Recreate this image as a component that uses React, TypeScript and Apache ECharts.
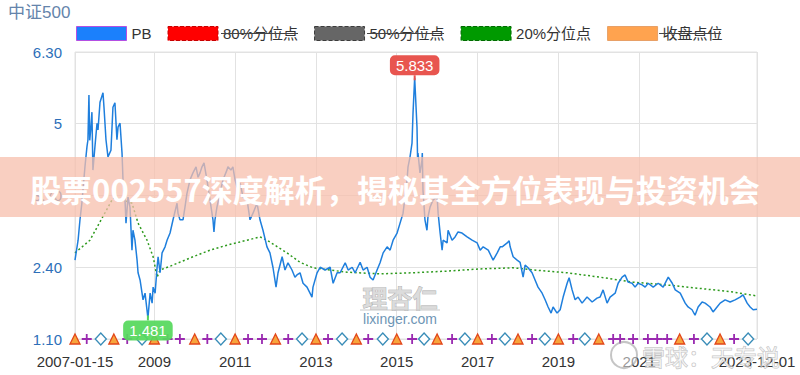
import React, { useEffect, useRef } from 'react';
import * as echarts from 'echarts';

const chartTitle = '中证500';
const legendNames = ['PB', '80%分位点', '50%分位点', '20%分位点', '收盘点位'];
const legendFills = ['#1b80fc', '#ff0000', '#666666', '#009a00', '#ffa34f'];
const legendBorders = ['#b44fe3', '#c80000', '#3c3c3c', '#006b00', '#e8a066'];
const legendBorderTypes = ['solid', 'dashed', 'dashed', 'dashed', 'solid'];
const legendStruck = [false, true, true, false, true];

const yTickValues = [1.1, 2.4, 3.7, 5, 6.3];
const yTickLabels = ['1.10', '2.40', '3.70', '5', '6.30'];
const xTickDates = ['2007-01-15', '2009-01-01', '2011-01-01', '2013-01-01', '2015-01-01', '2017-01-01', '2019-01-01', '2021-01-01', '2023-12-01'];
const xTickLabels = ['2007-01-15', '2009', '2011', '2013', '2015', '2017', '2019', '2021', '2023-12-01'];

const pbData: [string, number][] = [
  ['2007-01-15', 2.53], ['2007-02-12', 2.89], ['2007-03-01', 3.26], ['2007-03-18', 3.56], ['2007-04-15', 4.22],
  ['2007-05-03', 4.58], ['2007-05-12', 4.71], ['2007-05-21', 5.52], ['2007-05-28', 4.7], ['2007-06-08', 4.94],
  ['2007-06-17', 5.21], ['2007-06-26', 4.16], ['2007-07-14', 4.58], ['2007-08-02', 5.01], ['2007-08-11', 4.89],
  ['2007-08-29', 5.39], ['2007-09-25', 5.56], ['2007-10-04', 5.3], ['2007-10-22', 4.71], ['2007-11-09', 4.4],
  ['2007-12-06', 4.52], ['2007-12-24', 5.3], ['2008-01-11', 5.38], ['2008-01-29', 4.71], ['2008-02-08', 4.94],
  ['2008-02-26', 5.01], ['2008-03-15', 4.47], ['2008-03-24', 3.98], ['2008-04-11', 3.62], ['2008-04-20', 3.2],
  ['2008-05-08', 3.67], ['2008-05-26', 3.49], ['2008-06-13', 2.71], ['2008-06-22', 3.07], ['2008-07-10', 2.89],
  ['2008-07-29', 2.53], ['2008-08-07', 2.3], ['2008-08-25', 2.17], ['2008-09-21', 1.81], ['2008-10-09', 1.93],
  ['2008-11-04', 1.481], ['2008-11-24', 1.93], ['2008-12-12', 1.75], ['2008-12-21', 2.04], ['2009-01-08', 1.93],
  ['2009-01-26', 2.4], ['2009-02-04', 2.59], ['2009-02-22', 2.3], ['2009-03-12', 2.66], ['2009-04-08', 2.77],
  ['2009-04-26', 2.89], ['2009-05-23', 3.02], ['2009-06-19', 3.26], ['2009-07-25', 3.56], ['2009-08-03', 3.38],
  ['2009-08-21', 3.26], ['2009-09-17', 3.26], ['2009-10-05', 3.49], ['2009-10-23', 3.74], ['2009-11-19', 3.98],
  ['2009-12-16', 4.11], ['2010-01-13', 4.22], ['2010-01-31', 4.03], ['2010-02-18', 4.11], ['2010-03-08', 4.22],
  ['2010-03-26', 4.29], ['2010-04-22', 3.98], ['2010-05-19', 3.62], ['2010-06-15', 3.26], ['2010-06-24', 3.04],
  ['2010-07-03', 3.26], ['2010-07-21', 3.49], ['2010-08-17', 3.74], ['2010-09-13', 3.98], ['2010-10-19', 4.16],
  ['2010-10-28', 4.22], ['2010-11-24', 4.16], ['2010-12-12', 4.22], ['2011-01-01', 3.98], ['2011-01-19', 3.85],
  ['2011-02-15', 3.93], ['2011-03-14', 3.67], ['2011-04-19', 3.62], ['2011-05-16', 3.26], ['2011-06-12', 3.38],
  ['2011-07-18', 3.56], ['2011-08-14', 3.26], ['2011-09-10', 3.07], ['2011-10-16', 2.77], ['2011-11-12', 2.66],
  ['2011-12-09', 2.4], ['2012-01-06', 2.04], ['2012-01-24', 2.3], ['2012-03-01', 2.59], ['2012-03-27', 2.35],
  ['2012-04-23', 2.48], ['2012-05-29', 2.35], ['2012-06-25', 2.22], ['2012-07-13', 2.26], ['2012-08-10', 2.3],
  ['2012-09-06', 2.11], ['2012-10-12', 2.04], ['2012-11-26', 1.86], ['2012-12-05', 2.04], ['2013-01-11', 2.3],
  ['2013-02-08', 2.4], ['2013-03-25', 2.35], ['2013-05-09', 2.4], ['2013-06-05', 2.11], ['2013-07-11', 2.3],
  ['2013-08-07', 2.3], ['2013-09-22', 2.48], ['2013-10-19', 2.35], ['2013-11-24', 2.4], ['2013-12-21', 2.3],
  ['2014-02-04', 2.49], ['2014-03-03', 2.35], ['2014-04-08', 2.4], ['2014-05-05', 2.22], ['2014-06-01', 2.17],
  ['2014-07-07', 2.35], ['2014-08-03', 2.48], ['2014-08-31', 2.66], ['2014-10-06', 2.77], ['2014-11-02', 2.71],
  ['2014-11-29', 2.89], ['2015-01-04', 3.02], ['2015-01-31', 3.2], ['2015-02-27', 3.38], ['2015-04-04', 3.98],
  ['2015-04-13', 4.22], ['2015-05-01', 4.4], ['2015-05-19', 4.65], ['2015-05-28', 5.19], ['2015-06-12', 5.833],
  ['2015-07-03', 4.94], ['2015-07-08', 4.4], ['2015-07-12', 4.47], ['2015-07-30', 4.11], ['2015-08-17', 4.34],
  ['2015-08-20', 4.47], ['2015-08-26', 3.8], ['2015-09-13', 3.26], ['2015-10-01', 3.07], ['2015-10-10', 3.31],
  ['2015-10-29', 3.49], ['2015-11-25', 3.62], ['2016-01-01', 3.67], ['2016-01-10', 3.38], ['2016-01-28', 3.02],
  ['2016-02-15', 2.71], ['2016-02-24', 2.89], ['2016-03-31', 2.84], ['2016-04-09', 3.07], ['2016-05-15', 2.89],
  ['2016-06-11', 2.95], ['2016-07-08', 3.04], ['2016-08-13', 3.02], ['2016-09-28', 2.95], ['2016-11-12', 2.89],
  ['2016-12-28', 2.84], ['2017-01-24', 2.71], ['2017-02-20', 2.77], ['2017-04-07', 2.71], ['2017-05-21', 2.53],
  ['2017-06-27', 2.66], ['2017-07-24', 2.77], ['2017-08-11', 2.77], ['2017-09-25', 2.84], ['2017-10-13', 2.88],
  ['2017-10-22', 2.77], ['2017-11-18', 2.59], ['2017-12-24', 2.53], ['2018-01-20', 2.49], ['2018-02-16', 2.22],
  ['2018-03-06', 2.44], ['2018-04-02', 2.39], ['2018-05-08', 2.3], ['2018-06-04', 2.17], ['2018-07-01', 2.04],
  ['2018-08-07', 1.93], ['2018-09-03', 1.81], ['2018-09-30', 1.68], ['2018-10-27', 1.57], ['2018-11-14', 1.68],
  ['2018-12-20', 1.57], ['2019-01-17', 1.63], ['2019-02-13', 1.86], ['2019-03-21', 2.11], ['2019-04-08', 2.21],
  ['2019-05-05', 1.99], ['2019-06-01', 1.81], ['2019-06-28', 1.86], ['2019-08-03', 1.75], ['2019-09-17', 1.86],
  ['2019-11-02', 1.77], ['2019-12-16', 1.84], ['2020-01-13', 1.86], ['2020-02-09', 1.99], ['2020-03-16', 1.75],
  ['2020-04-12', 1.86], ['2020-05-28', 1.93], ['2020-06-24', 2.11], ['2020-07-30', 2.22], ['2020-08-26', 2.26],
  ['2020-09-22', 2.13], ['2020-10-28', 2.11], ['2020-11-24', 2.04], ['2020-12-21', 2.11], ['2021-01-27', 2.08],
  ['2021-02-23', 2.04], ['2021-03-22', 2.11], ['2021-05-07', 2.04], ['2021-06-21', 2.11], ['2021-08-05', 2.04],
  ['2021-09-20', 2.22], ['2021-10-26', 2.11], ['2021-11-22', 1.99], ['2022-01-06', 1.93], ['2022-02-20', 1.75],
  ['2022-03-18', 1.68], ['2022-04-23', 1.63], ['2022-05-20', 1.53], ['2022-06-17', 1.68], ['2022-07-23', 1.77],
  ['2022-08-19', 1.75], ['2022-10-03', 1.68], ['2022-10-30', 1.59], ['2022-12-05', 1.68], ['2023-01-02', 1.75],
  ['2023-02-16', 1.81], ['2023-04-02', 1.77], ['2023-05-17', 1.81], ['2023-07-01', 1.86], ['2023-07-28', 1.9],
  ['2023-09-03', 1.75], ['2023-09-30', 1.68], ['2023-10-27', 1.63], ['2023-12-01', 1.64],
];

const q20Data: [string, number][] = [
  ['2007-01-15', 2.66], ['2007-05-30', 2.89], ['2007-12-24', 3.65], ['2008-03-24', 3.62], ['2008-06-13', 3.56],
  ['2008-08-07', 3.2], ['2008-10-27', 2.89], ['2008-12-21', 2.59], ['2009-01-26', 2.22], ['2009-02-22', 2.35],
  ['2009-06-19', 2.44], ['2009-12-16', 2.59], ['2010-05-19', 2.71], ['2010-10-19', 2.8], ['2011-04-19', 2.89],
  ['2011-08-14', 2.95], ['2011-10-16', 2.89], ['2012-04-14', 2.66], ['2012-08-10', 2.49], ['2012-12-05', 2.39],
  ['2013-10-10', 2.31], ['2014-08-03', 2.28], ['2015-05-28', 2.3], ['2016-03-31', 2.33], ['2017-01-24', 2.37],
  ['2017-11-18', 2.39], ['2018-05-26', 2.35], ['2019-03-21', 2.3], ['2020-01-13', 2.22], ['2020-11-07', 2.13],
  ['2021-09-02', 2.08], ['2022-06-17', 2.02], ['2023-05-02', 1.95], ['2023-12-01', 1.88],
];

const triangleDates = ['2007-01-15', '2008-01-01', '2009-01-01', '2010-01-01', '2011-01-01', '2012-01-01', '2013-01-01',
  '2014-01-01', '2015-01-01', '2016-01-01', '2017-01-01', '2018-01-01', '2019-01-01', '2020-01-01', '2022-01-01', '2023-01-01'];
const plusDates = ['2007-05-01', '2008-05-01', '2009-05-01', '2009-08-20', '2010-04-25', '2011-04-28', '2011-09-01',
  '2012-04-25', '2013-04-20', '2014-04-18', '2015-05-20', '2016-05-15', '2017-05-10', '2018-05-08', '2019-05-15',
  '2020-05-10', '2020-07-12', '2020-11-06', '2021-03-20', '2021-06-12', '2021-09-10', '2022-05-10', '2023-05-08'];
const diamondDates = ['2007-09-05', '2008-09-12', '2010-08-25', '2012-08-28', '2013-08-25', '2014-08-28', '2015-09-05',
  '2016-09-08', '2017-09-05', '2018-09-01', '2019-08-28', '2022-09-05', '2023-09-12'];

const bannerText = '股票002557深度解析，揭秘其全方位表现与投资机会';
const watermarkLogo = '理杏仁';
const watermarkSite = 'lixinger.com';
const watermarkXueqiu = '雪球：天专说';

const FONT = "'Liberation Sans', 'Noto Sans CJK SC', sans-serif";
const CJK = "'Noto Sans CJK SC', sans-serif";

const parseLocal = (s: string) => {
  const [y, m, d] = s.split('-').map(Number);
  return new Date(y, m - 1, d).getTime();
};

const measure = (txt: string, font: string) => {
  const ctx = document.createElement('canvas').getContext('2d');
  if (!ctx) return txt.length * 12;
  ctx.font = font;
  return ctx.measureText(txt).width;
};

export default function App() {
  const ref = useRef<HTMLDivElement>(null);

  useEffect(() => {
    if (!ref.current) return;
    const chart = echarts.init(ref.current, undefined, { renderer: 'svg' });
    const xTickTimes = xTickDates.map(parseLocal);
    const base = yTickValues[0];
    const toPts = (arr: [string, number][]) => arr.map(([d, v]) => [parseLocal(d), v]);
    const onBase = (arr: string[]) => arr.map((d) => [parseLocal(d), base]);

    const legendLeft = 76, legendTop = 26, itemW = 50, itemH = 14, gap = 16, fontSize = 15;
    const strikes: any[] = [];
    let cx = legendLeft;
    legendNames.forEach((n, i) => {
      const w = measure(n, `${fontSize}px ${FONT}`);
      const tx = cx + itemW + 5;
      if (legendStruck[i]) {
        strikes.push({
          type: 'line', z: 120,
          shape: { x1: tx - 1, y1: legendTop + itemH / 2 + 0.5, x2: tx + w + 1, y2: legendTop + itemH / 2 + 0.5 },
          style: { stroke: '#444', lineWidth: 1 },
        });
      }
      cx = tx + w + gap;
    });

    const option: any = {
      animation: false,
      backgroundColor: '#ffffff',
      title: {
        text: chartTitle, left: 8, top: 4, padding: 0,
        textStyle: { fontSize: 17, fontWeight: 'normal', color: '#6584ab', fontFamily: FONT },
      },
      legend: {
        left: legendLeft, top: legendTop, padding: 0, itemGap: gap, itemWidth: itemW, itemHeight: itemH,
        icon: 'rect', selectedMode: false,
        textStyle: { fontSize, color: '#333', fontFamily: FONT },
        data: legendNames.map((n, i) => ({
          name: n, icon: 'rect',
          itemStyle: { color: legendFills[i], borderColor: legendBorders[i], borderWidth: 1, borderType: legendBorderTypes[i] },
        })),
      },
      grid: { left: 75, right: 43, top: 52, bottom: 36, show: true, borderColor: '#e2e2e2', borderWidth: 1 },
      xAxis: {
        type: 'value', min: xTickTimes[0], max: xTickTimes[xTickTimes.length - 1],
        axisLine: { show: false }, axisTick: { show: false, customValues: xTickTimes },
        splitLine: { show: true, lineStyle: { color: '#e2e2e2' } },
        axisLabel: {
          customValues: xTickTimes, fontSize: 15, color: '#333', margin: 15, fontFamily: FONT,
          formatter: (v: number) => {
            const i = xTickTimes.findIndex((t) => Math.abs(t - v) < 36 * 3600e3);
            return i >= 0 ? xTickLabels[i] : '';
          },
        },
      },
      yAxis: {
        type: 'value', min: yTickValues[0], max: yTickValues[yTickValues.length - 1],
        axisLine: { show: false }, axisTick: { show: false, customValues: yTickValues },
        splitLine: { show: true, lineStyle: { color: '#e2e2e2' } },
        axisLabel: {
          customValues: yTickValues, fontSize: 15, color: '#2d6fb9', margin: 13, fontFamily: FONT,
          formatter: (v: number) => {
            const i = yTickValues.findIndex((t) => Math.abs(t - v) < 1e-6);
            return i >= 0 ? yTickLabels[i] : '';
          },
        },
      },
      series: [
        {
          name: legendNames[0], type: 'line', data: toPts(pbData), showSymbol: false, z: 3,
          itemStyle: { color: '#1f7fdd' }, lineStyle: { color: '#1f7fdd', width: 1.5 },
          markPoint: {
            symbol: 'rect', symbolSize: [2, 5], z: 10,
            label: {
              show: true, color: '#fff', fontSize: 15, fontFamily: FONT, padding: [3, 6, 2, 6], borderRadius: 5,
              formatter: (p: any) => Number(p.value).toFixed(3),
            },
            data: [
              {
                name: 'max', type: 'max', itemStyle: { color: '#e8504c' },
                label: { position: 'top', distance: 0, backgroundColor: '#e8554f' },
              },
              {
                name: 'min', type: 'min', itemStyle: { color: '#55d35a' },
                label: { position: 'bottom', distance: 0, backgroundColor: 'rgba(86,216,92,0.93)' },
              },
            ],
          },
        },
        { name: legendNames[1], type: 'line', data: [], itemStyle: { color: legendFills[1] } },
        { name: legendNames[2], type: 'line', data: [], itemStyle: { color: legendFills[2] } },
        {
          name: legendNames[3], type: 'line', data: toPts(q20Data), showSymbol: false, z: 2,
          itemStyle: { color: '#2e9a1e' }, lineStyle: { color: '#2e9a1e', width: 1.5, type: [2, 2.5] },
        },
        { name: legendNames[4], type: 'line', data: [], itemStyle: { color: legendFills[4] } },
        {
          name: 'tri', type: 'scatter', clip: false, z: 4, symbol: 'triangle', symbolSize: 10,
          itemStyle: { color: '#f7a53c', borderColor: '#e2461a', borderWidth: 1.3, opacity: 1 },
          data: onBase(triangleDates),
        },
        {
          name: 'plus', type: 'scatter', clip: false, z: 4,
          symbol: 'path://M4.1,0H5.9V4.1H10V5.9H5.9V10H4.1V5.9H0V4.1H4.1Z', symbolSize: 10,
          itemStyle: { color: '#9a2ab0', opacity: 1 },
          data: onBase(plusDates),
        },
        {
          name: 'dia', type: 'scatter', clip: false, z: 4, symbol: 'diamond', symbolSize: [11, 12],
          itemStyle: { color: '#ffffff', borderColor: '#3a8db8', borderWidth: 1.4, opacity: 1 },
          data: onBase(diamondDates),
        },
      ],
      graphic: [
        {
          type: 'text', z: 50, x: 400, y: 297,
          style: { text: watermarkLogo, fill: 'rgba(215,215,215,0.9)', stroke: '#a5a5a5', lineWidth: 0.7,
            fontSize: 25, fontWeight: 'bold', fontFamily: CJK, align: 'center', verticalAlign: 'middle' },
        },
        {
          type: 'line', z: 50, shape: { x1: 360, y1: 310, x2: 440, y2: 310 }, style: { stroke: '#c8c8c8', lineWidth: 1 },
        },
        {
          type: 'text', z: 50, x: 400, y: 319,
          style: { text: watermarkSite, fill: '#6e95b5', fontSize: 14, fontFamily: FONT, align: 'center', verticalAlign: 'middle' },
        },
        {
          type: 'rect', z: 100, shape: { x: 0, y: 157, width: 800, height: 60 },
          style: { fill: 'rgba(247,190,172,0.74)' },
        },
        {
          type: 'text', z: 101, x: 395, y: 188,
          style: { text: bannerText, fill: '#ffffff', fontSize: 31, fontWeight: 'bold', fontFamily: CJK,
            align: 'center', verticalAlign: 'middle' },
        },
        {
          type: 'circle', z: 100, shape: { cx: 624, cy: 355, r: 13 },
          style: { fill: 'rgba(255,255,255,0.5)', stroke: 'rgba(150,150,150,0.55)', lineWidth: 2 },
        },
        {
          type: 'text', z: 100, x: 642, y: 356,
          style: { text: watermarkXueqiu, fill: 'rgba(255,255,255,0.55)', stroke: 'rgba(140,140,140,0.55)', lineWidth: 1,
            fontSize: 23, fontFamily: CJK, align: 'left', verticalAlign: 'middle' },
        },
        ...strikes,
      ],
    };

    chart.setOption(option);
    return () => chart.dispose();
  }, []);

  return <div ref={ref} style={{ width: 800, height: 375, position: 'absolute', left: 0, top: 0 }} />;
}
